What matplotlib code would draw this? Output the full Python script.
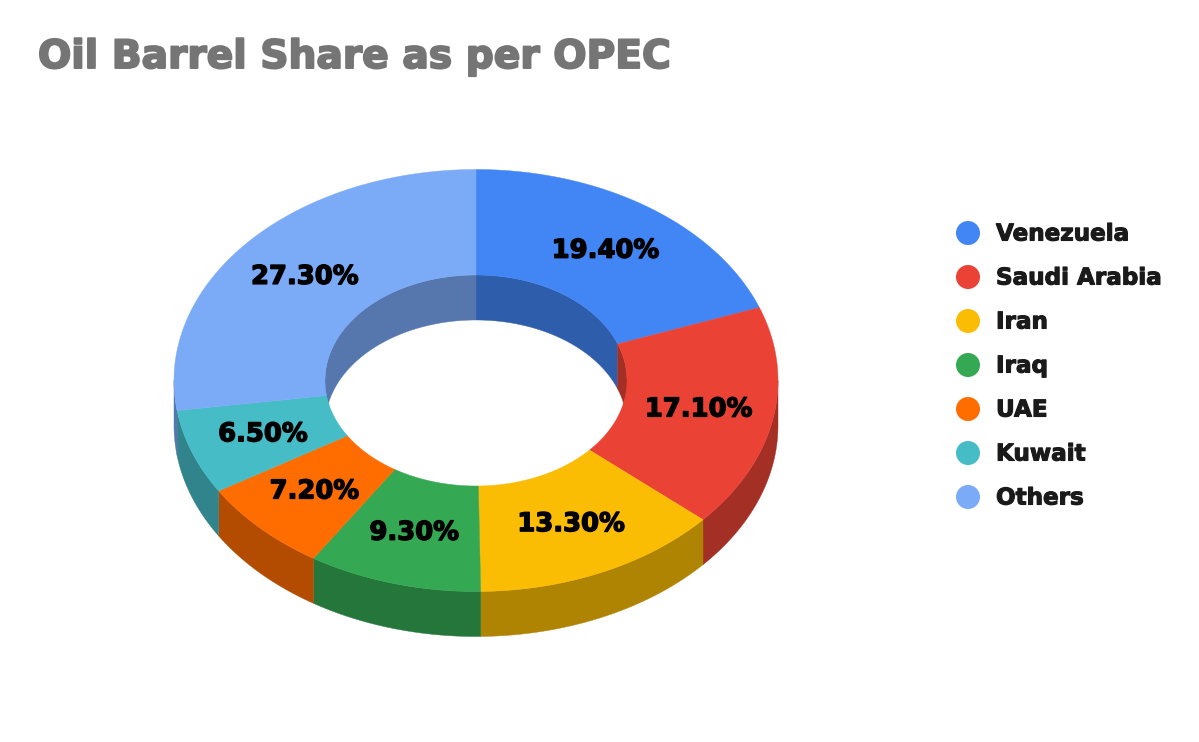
import numpy as np
import matplotlib
matplotlib.use("Agg")
import matplotlib.pyplot as plt
import matplotlib.patheffects as pe
from matplotlib.patches import Polygon, Circle

# Data
countries = ["Venezuela", "Saudi Arabia", "Iran", "Iraq", "UAE", "Kuwait", "Others"]
shares = [19.4, 17.1, 13.3, 9.3, 7.2, 6.5, 27.3]
colors = ["#4285F4", "#EA4335", "#FBBC04", "#34A853", "#FF6D01", "#46BDC6", "#7BAAF7"]

# Geometry of the donut, in pixels
cx, cy = 476, 380.5
rx, ry = 302, 211
hole = 0.5
depth = 45
shade = 0.7


def arc(t1, t2, scale=1.0, dy=0.0):
    t = np.radians(np.linspace(t1, t2, max(int(abs(t2 - t1) * 2), 2)))
    return np.column_stack([cx + scale * rx * np.sin(t), cy + dy - scale * ry * np.cos(t)])


def dark(c):
    return tuple(v * shade for v in matplotlib.colors.to_rgb(c))


def heavy(color, width):
    # the reference font is heavier than DejaVu Bold
    return [pe.withStroke(linewidth=width, foreground=color)]


fig = plt.figure(figsize=(11.99, 7.42), dpi=100)
ax = fig.add_axes([0, 0, 1, 1])
ax.set_xlim(0, 1199)
ax.set_ylim(742, 0)
ax.axis("off")

total = sum(shares)
edges = np.concatenate([[0], np.cumsum(shares)]) / total * 360

# outer wall, front half only
for c, a, b in zip(colors, edges[:-1], edges[1:]):
    a2, b2 = max(a, 90), min(b, 270)
    if a2 < b2:
        pts = np.vstack([arc(a2, b2), arc(b2, a2, dy=depth)])
        ax.add_patch(Polygon(pts, fc=dark(c), ec=dark(c), lw=0.3, zorder=1))

# inner wall, back half only (top faces are drawn over whatever sticks out)
for c, a, b in zip(colors, edges[:-1], edges[1:]):
    for lo, hi in [(0, 90), (270, 360)]:
        a2, b2 = max(a, lo), min(b, hi)
        if a2 < b2:
            pts = np.vstack([arc(a2, b2, hole), arc(b2, a2, hole, dy=depth)])
            ax.add_patch(Polygon(pts, fc=dark(c), ec=dark(c), lw=0.3, zorder=2))

# top faces
for c, a, b in zip(colors, edges[:-1], edges[1:]):
    pts = np.vstack([arc(a, b), arc(b, a, hole)])
    ax.add_patch(Polygon(pts, fc=c, ec=c, lw=0.3, zorder=3))

# percentage labels
for s, a, b in zip(shares, edges[:-1], edges[1:]):
    mid = np.radians((a + b) / 2)
    x = cx + 0.75 * rx * np.sin(mid)
    y = cy - 0.75 * ry * np.cos(mid)
    ax.text(x, y, "%.2f%%" % s, ha="center", va="center", fontsize=18.6,
            fontweight="bold", family="DejaVu Sans", color="black", zorder=4,
            path_effects=heavy("black", 1.0))

# title
ax.text(38, 57, "Oil Barrel Share as per OPEC", ha="left", va="center", fontsize=28.2,
        fontweight="bold", family="DejaVu Sans", color="#757575",
        path_effects=heavy("#757575", 1.4))

# legend
for i, (name, c) in enumerate(zip(countries, colors)):
    y = 233 + i * 44
    ax.add_patch(Circle((968, y), 12, fc=c, ec="none"))
    ax.text(996, y + 1, name, ha="left", va="center", fontsize=16.6,
            fontweight="bold", family="DejaVu Sans", color="#1a1a1a",
            path_effects=heavy("#1a1a1a", 0.8))

fig.savefig("out.png", dpi=100, facecolor="white")
